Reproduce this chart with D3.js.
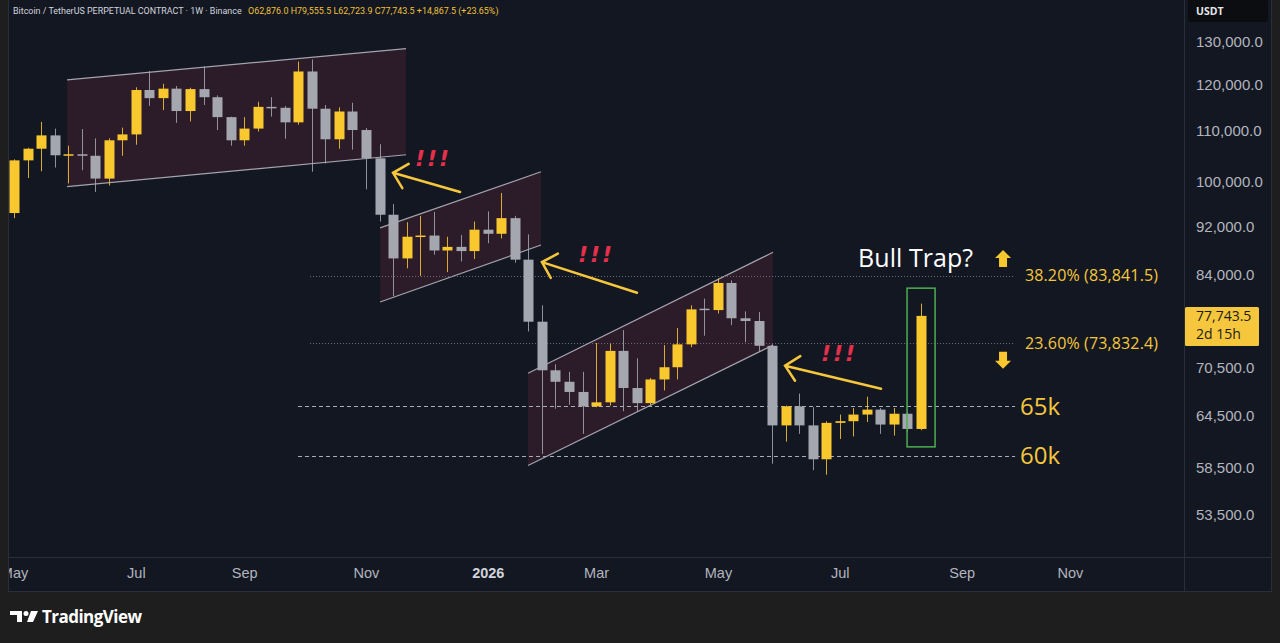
<!DOCTYPE html>
<html lang="en">

<head>
    <meta charset="UTF-8">
    <meta name="viewport" content="width=device-width, initial-scale=1.0">
    <title>BTCUSDT.P 1W</title>
    <style>
        html,
        body {
            margin: 0;
            padding: 0;
            background: #1e1e1e;
            overflow: hidden;
        }

        svg {
            display: block;
            font-family: "Open Sans", sans-serif;
        }

        .legend {
            font-family: Roboto, sans-serif;
        }

        .y-axis text {
            fill: #b2b5be;
            font-size: 15px;
        }

        .x-axis text {
            fill: #b2b5be;
            font-size: 14.5px;
        }

        .x-axis .year {
            fill: #d1d4dc;
            font-weight: bold;
        }

        .channel-fill {
            fill: rgba(120, 40, 60, 0.25);
        }

        .channel-line {
            stroke: #c5c7cf;
            stroke-width: 1.2px;
            stroke-opacity: 0.8;
        }

        .fib-line {
            stroke: #6a6d78;
            stroke-width: 1px;
            stroke-dasharray: 1, 2;
        }

        .level-line {
            stroke: #a9acb6;
            stroke-width: 1px;
            stroke-dasharray: 4, 3;
        }

        .label-yellow {
            fill: #f6c73c;
        }

        .arrow {
            fill: none;
            stroke: #f6c73c;
            stroke-width: 2.5px;
            stroke-linecap: round;
        }

        .bang {
            fill: #e5304b;
            font-family: "DejaVu Sans", sans-serif;
            font-weight: bold;
            font-style: oblique;
            font-size: 22px;
            letter-spacing: 2px;
            text-anchor: middle;
            dominant-baseline: middle;
        }

        .sep {
            stroke: #2a2e39;
            stroke-width: 1px;
        }
    </style>
</head>

<body>
    <script src="https://d3js.org/d3.v7.min.js"></script>
    <script>
        // weekly candles, Monday open dates
        const weeks = [
            '2025-05-05', '2025-05-12', '2025-05-19', '2025-05-26', '2025-06-02', '2025-06-09', '2025-06-16',
            '2025-06-23', '2025-06-30', '2025-07-07', '2025-07-14', '2025-07-21', '2025-07-28', '2025-08-04',
            '2025-08-11', '2025-08-18', '2025-08-25', '2025-09-01', '2025-09-08', '2025-09-15', '2025-09-22',
            '2025-09-29', '2025-10-06', '2025-10-13', '2025-10-20', '2025-10-27', '2025-11-03', '2025-11-10',
            '2025-11-17', '2025-11-24', '2025-12-01', '2025-12-08', '2025-12-15', '2025-12-22', '2025-12-29',
            '2026-01-05', '2026-01-12', '2026-01-19', '2026-01-26', '2026-02-02', '2026-02-09', '2026-02-16',
            '2026-02-23', '2026-03-02', '2026-03-09', '2026-03-16', '2026-03-23', '2026-03-30', '2026-04-06',
            '2026-04-13', '2026-04-20', '2026-04-27', '2026-05-04', '2026-05-11', '2026-05-18', '2026-05-25',
            '2026-06-01', '2026-06-08', '2026-06-15', '2026-06-22', '2026-06-29', '2026-07-06', '2026-07-13',
            '2026-07-20', '2026-07-27', '2026-08-03', '2026-08-10', '2026-08-17'
        ];
        const opens = [
            94300, 104100, 106400, 109100, 105100, 105300, 105000, 100600, 108100, 109300,
            118800, 117000, 119100, 114200, 119000, 117200, 112900, 108100, 110500, 115100,
            114900, 111800, 123000, 114700, 108300, 114100, 110200, 104500, 94000, 86600,
            90200, 90400, 87900, 88500, 87800, 91400, 90700, 93400, 86400, 76900,
            70200, 68700, 67400, 65600, 66100, 72800, 67900, 66000, 69000, 70600,
            73700, 78800, 78600, 82700, 77400, 77000, 73500, 63300, 65600, 63300,
            59400, 63600, 63800, 64600, 65200, 63400, 64700, 62876.0
        ];
        const highs = [
            104300, 106600, 111900, 110500, 107000, 110400, 108500, 108500, 110700, 119400,
            123100, 120200, 119700, 119300, 124200, 117600, 113000, 112900, 116200, 117200,
            115300, 125300, 125800, 115500, 115000, 116000, 110600, 107300, 95900, 92700,
            93800, 94500, 90200, 90500, 92800, 94600, 97900, 93800, 90600, 79300,
            71000, 70000, 70000, 73900, 73800, 75700, 71800, 69200, 73600, 76000,
            79300, 80300, 83400, 83100, 78400, 78300, 73700, 65700, 67200, 65500,
            63800, 64600, 65400, 66800, 65400, 65400, 64900, 79555.5
        ];
        const lows = [
            93400, 100700, 102000, 102700, 99700, 102200, 98100, 99300, 105000, 107200,
            115300, 114400, 111700, 112000, 115500, 110200, 107000, 107000, 109900, 113000,
            108400, 111300, 101900, 103500, 106400, 106200, 98600, 92800, 80700, 85000,
            83800, 87200, 84400, 86100, 86500, 89100, 89900, 85900, 75500, 60000,
            65300, 65800, 62300, 65500, 65700, 65000, 65000, 65800, 67600, 69000,
            73300, 74900, 78100, 76400, 74000, 72700, 58900, 61400, 62300, 58200,
            57700, 61700, 62000, 63700, 62300, 62100, 62500, 62723.9
        ];
        const closes = [
            104100, 106400, 109100, 105100, 105300, 105000, 100600, 108100, 109300, 118800,
            117000, 119100, 114200, 119000, 117200, 112900, 108100, 110500, 115100, 114900,
            111800, 123000, 114700, 108300, 114100, 110200, 104500, 94000, 86600, 90200,
            90400, 87900, 88500, 87800, 91400, 90700, 93400, 86400, 76900, 70200,
            68700, 67400, 65600, 66100, 72800, 67900, 66000, 69000, 70600, 73700,
            78700, 78600, 82700, 77400, 77000, 73500, 63300, 65600, 63300, 59400,
            63600, 63800, 64600, 65200, 63400, 64700, 62876.0, 77743.5
        ];

        const priceTicks = [130000, 120000, 110000, 100000, 92000, 84000, 70500, 64500, 58500, 53500];
        const dateTicks = ['2025-05-05', '2025-07-07', '2025-09-01', '2025-11-03', '2026-01-05',
            '2026-03-02', '2026-05-04', '2026-07-06', '2026-09-07', '2026-11-02'];
        const dateTickLabels = ['May', 'Jul', 'Sep', 'Nov', '2026', 'Mar', 'May', 'Jul', 'Sep', 'Nov'];

        // drawings, positions as [week index, price]
        const channelWeeks = [[3.92, 28.96], [27.04, 38.93], [37.97, 56.07]];
        const channelTop = [[121100, 128400], [91700, 101900], [69800, 87600]];
        const channelBottom = [[99100, 105200], [79800, 88800], [58700, 73600]];

        const fibPcts = ['38.20%', '23.60%'];
        const fibValues = [83841.5, 73832.4];
        const fibWeeks = [21.87, 73.95];

        const levelNames = ['65k', '60k'];
        const levelValues = [65600, 59800];
        const levelWeeks = [20.98, 73.95];

        const arrowTips = [[28.0, 101700], [39.0, 86000], [56.96, 70800]];
        const arrowTails = [[32.95, 98100], [46.02, 81200], [64.05, 67800]];
        const bangSpots = [[30.95, 104200], [42.99, 87000], [60.94, 72200]];

        const boxWeeks = [65.97, 68.04];
        const boxPrices = [60800, 81900];

        const width = 1280;
        const height = 643;
        const panel = { left: 8, right: 1272, bottom: 592 };
        const plotRight = 1184;
        const axisTop = 557;

        const parseDate = d3.utcParse('%Y-%m-%d');
        const weekStart = parseDate(weeks[0]);
        const atWeek = i => new Date(weekStart.getTime() + i * 7 * 864e5);

        const candles = weeks.map((w, i) => ({
            date: parseDate(w),
            open: opens[i],
            high: highs[i],
            low: lows[i],
            close: closes[i],
        }));

        const xScale = d3.scaleUtc()
            .domain([weekStart, parseDate(weeks[weeks.length - 1])])
            .range([14, 921]);
        const yScale = d3.scaleLog()
            .domain([53500, 130000])
            .range([515, 42]);

        const px = p => [xScale(atWeek(p[0])), yScale(p[1])];

        const svg = d3.select('body')
            .append('svg')
            .attr('width', width)
            .attr('height', height);

        svg.append('rect')
            .attr('width', width).attr('height', height)
            .attr('fill', '#1e1e1e');
        svg.append('rect')
            .attr('x', panel.left).attr('y', 0)
            .attr('width', panel.right - panel.left).attr('height', panel.bottom)
            .attr('fill', '#131722');

        svg.append('clipPath').attr('id', 'plot-clip')
            .append('rect')
            .attr('x', panel.left).attr('y', 0)
            .attr('width', plotRight - panel.left).attr('height', axisTop);

        const plot = svg.append('g').attr('clip-path', 'url(#plot-clip)');

        // channels
        channelWeeks.forEach((cw, k) => {
            const tl = px([cw[0], channelTop[k][0]]);
            const tr = px([cw[1], channelTop[k][1]]);
            const bl = px([cw[0], channelBottom[k][0]]);
            const br = px([cw[1], channelBottom[k][1]]);
            plot.append('path')
                .attr('class', 'channel-fill')
                .attr('d', `M${tl}L${tr}L${br}L${bl}Z`);
            plot.append('line').attr('class', 'channel-line')
                .attr('x1', tl[0]).attr('y1', tl[1]).attr('x2', tr[0]).attr('y2', tr[1]);
            plot.append('line').attr('class', 'channel-line')
                .attr('x1', bl[0]).attr('y1', bl[1]).attr('x2', br[0]).attr('y2', br[1]);
        });

        // fib + support levels
        plot.selectAll('.fib-line')
            .data(fibValues)
            .enter().append('line')
            .attr('class', 'fib-line')
            .attr('x1', xScale(atWeek(fibWeeks[0])))
            .attr('x2', xScale(atWeek(fibWeeks[1])))
            .attr('y1', d => Math.round(yScale(d)) + 0.5)
            .attr('y2', d => Math.round(yScale(d)) + 0.5);

        plot.selectAll('.level-line')
            .data(levelValues)
            .enter().append('line')
            .attr('class', 'level-line')
            .attr('x1', xScale(atWeek(levelWeeks[0])))
            .attr('x2', xScale(atWeek(levelWeeks[1])))
            .attr('y1', d => Math.round(yScale(d)) + 0.5)
            .attr('y2', d => Math.round(yScale(d)) + 0.5);

        // candles
        const yellow = '#f9c72e';
        const grey = '#a4a7b0';
        const color = d => d.close >= d.open ? yellow : grey;

        plot.selectAll('.wick')
            .data(candles)
            .enter().append('line')
            .attr('class', 'wick')
            .attr('x1', d => Math.round(xScale(d.date)) + 0.5)
            .attr('x2', d => Math.round(xScale(d.date)) + 0.5)
            .attr('y1', d => yScale(d.high))
            .attr('y2', d => yScale(d.low))
            .attr('stroke', color)
            .attr('stroke-opacity', 0.85)
            .attr('stroke-width', 1);

        plot.selectAll('.body')
            .data(candles)
            .enter().append('rect')
            .attr('class', 'body')
            .attr('x', d => Math.round(xScale(d.date)) - 4.5)
            .attr('width', 10)
            .attr('y', d => yScale(Math.max(d.open, d.close)))
            .attr('height', d => Math.max(1.5, Math.abs(yScale(d.open) - yScale(d.close))))
            .attr('fill', color);

        // highlight box around the last candle
        const b0 = px([boxWeeks[0], boxPrices[1]]);
        const b1 = px([boxWeeks[1], boxPrices[0]]);
        plot.append('rect')
            .attr('x', b0[0]).attr('y', b0[1])
            .attr('width', b1[0] - b0[0]).attr('height', b1[1] - b0[1])
            .attr('fill', 'none')
            .attr('stroke', '#4caf50')
            .attr('stroke-width', 1.5);

        // hand drawn arrows
        arrowTips.forEach((tip, k) => {
            const a = px(tip);
            const t = px(arrowTails[k]);
            const ang = Math.atan2(t[1] - a[1], t[0] - a[0]);
            const len = 18;
            const h1 = [a[0] + len * Math.cos(ang - 0.8), a[1] + len * Math.sin(ang - 0.8)];
            const h2 = [a[0] + len * Math.cos(ang + 0.75), a[1] + len * Math.sin(ang + 0.75)];
            plot.append('path')
                .attr('class', 'arrow')
                .attr('d', `M${t}L${a}M${h1}L${a}L${h2}`);
        });

        plot.selectAll('.bang')
            .data(bangSpots)
            .enter().append('text')
            .attr('class', 'bang')
            .attr('x', d => px(d)[0])
            .attr('y', d => px(d)[1])
            .text('!!!');

        const trap = px([62.35, 85200]);
        plot.append('text')
            .attr('x', trap[0]).attr('y', trap[1])
            .attr('fill', '#ffffff')
            .attr('font-size', 25)
            .attr('textLength', 115)
            .text('Bull Trap?');

        // block arrows up / down
        const up = px([73.06, 86500]);
        plot.append('path')
            .attr('fill', yellow)
            .attr('d', `M${up[0]},${up[1] - 9}L${up[0] + 8},${up[1] - 1}L${up[0] + 4},${up[1] - 1}L${up[0] + 4},${up[1] + 8}L${up[0] - 4},${up[1] + 8}L${up[0] - 4},${up[1] - 1}L${up[0] - 8},${up[1] - 1}Z`);
        const down = px([73.06, 71600]);
        plot.append('path')
            .attr('fill', yellow)
            .attr('d', `M${down[0]},${down[1] + 9}L${down[0] + 8},${down[1] + 1}L${down[0] + 4},${down[1] + 1}L${down[0] + 4},${down[1] - 8}L${down[0] - 4},${down[1] - 8}L${down[0] - 4},${down[1] + 1}L${down[0] - 8},${down[1] + 1}Z`);

        const fmt1 = d3.format(',.1f');
        plot.selectAll('.fib-label')
            .data(fibValues)
            .enter().append('text')
            .attr('class', 'fib-label label-yellow')
            .attr('x', xScale(atWeek(74.68)))
            .attr('y', d => yScale(d))
            .attr('dy', '0.35em')
            .attr('font-size', 16)
            .attr('textLength', 133)
            .text((d, i) => `${fibPcts[i]} (${fmt1(d)})`);

        plot.selectAll('.level-label')
            .data(levelValues)
            .enter().append('text')
            .attr('class', 'level-label label-yellow')
            .attr('x', xScale(atWeek(74.32)))
            .attr('y', d => yScale(d))
            .attr('dy', '0.36em')
            .attr('font-size', 24)
            .text((d, i) => levelNames[i]);

        // header legend: size it so both parts fit in ~488px
        const last = candles[candles.length - 1];
        const prevClose = closes[closes.length - 2];
        const chg = last.close - prevClose;
        const title = svg.append('text')
            .attr('class', 'legend')
            .attr('x', 13).attr('y', 14)
            .attr('fill', '#d1d4dc')
            .attr('font-size', 10)
            .text('Bitcoin / TetherUS PERPETUAL CONTRACT · 1W · Binance');
        const ohlc = svg.append('text')
            .attr('class', 'legend')
            .attr('y', 14)
            .attr('fill', '#f0c23a')
            .attr('font-size', 10)
            .text(`O${fmt1(last.open)} H${fmt1(last.high)} L${fmt1(last.low)} C${fmt1(last.close)} +${fmt1(chg)} (+${d3.format('.2f')(chg / prevClose * 100)}%)`);
        const w1 = title.node().getComputedTextLength();
        const w2 = ohlc.node().getComputedTextLength();
        const fs = 10 * 480 / (w1 + w2);
        title.attr('font-size', fs);
        ohlc.attr('font-size', fs)
            .attr('x', 13 + w1 * fs / 10 + 6);

        // axes
        const yAxis = d3.axisRight(yScale)
            .tickValues(priceTicks)
            .tickSize(0)
            .tickPadding(12)
            .tickFormat(fmt1);
        svg.append('g')
            .attr('class', 'y-axis')
            .attr('transform', `translate(${plotRight}, 0)`)
            .call(yAxis)
            .call(g => g.select('.domain').remove());

        const xAxis = d3.axisBottom(xScale)
            .tickValues(dateTicks.map(parseDate))
            .tickSize(0)
            .tickPadding(11)
            .tickFormat((d, i) => dateTickLabels[i]);
        svg.append('g')
            .attr('class', 'x-axis')
            .attr('clip-path', 'url(#axis-clip)')
            .attr('transform', `translate(0, ${axisTop})`)
            .call(xAxis)
            .call(g => g.select('.domain').remove())
            .selectAll('text')
            .classed('year', (d, i) => /^\d+$/.test(dateTickLabels[i]));
        svg.append('clipPath').attr('id', 'axis-clip')
            .append('rect')
            .attr('x', panel.left).attr('y', 0)
            .attr('width', plotRight - panel.left).attr('height', 40);

        // separators
        svg.append('line').attr('class', 'sep')
            .attr('x1', panel.left).attr('x2', panel.right)
            .attr('y1', axisTop + 0.5).attr('y2', axisTop + 0.5);
        svg.append('line').attr('class', 'sep')
            .attr('x1', plotRight + 0.5).attr('x2', plotRight + 0.5)
            .attr('y1', 0).attr('y2', panel.bottom);
        svg.append('rect')
            .attr('x', panel.left + 0.5).attr('y', -1)
            .attr('width', panel.right - panel.left - 1).attr('height', panel.bottom + 0.5)
            .attr('fill', 'none')
            .attr('stroke', '#2a2e39');

        // currency tag
        svg.append('rect')
            .attr('x', 1188).attr('y', 0).attr('width', 80).attr('height', 22)
            .attr('rx', 2)
            .attr('fill', '#0c0d10');
        svg.append('text')
            .attr('x', 1196).attr('y', 15)
            .attr('fill', '#e6e7eb')
            .attr('font-size', 10.5)
            .attr('font-weight', 'bold')
            .text('USDT');

        // last price tag
        const lastY = yScale(last.close);
        svg.append('rect')
            .attr('x', plotRight + 1).attr('y', lastY - 9)
            .attr('width', 74).attr('height', 39)
            .attr('rx', 1.5)
            .attr('fill', '#f6c73c');
        svg.append('text')
            .attr('x', 1196).attr('y', lastY + 5)
            .attr('fill', '#1b1b1b')
            .attr('font-size', 14)
            .text(fmt1(last.close));
        svg.append('text')
            .attr('x', 1196).attr('y', lastY + 23)
            .attr('fill', '#1b1b1b')
            .attr('font-size', 14)
            .text('2d 15h');

        // footer logo
        const logo = svg.append('g').attr('fill', '#ffffff');
        logo.append('path').attr('d', 'M10,611H22V622H17V615H10Z');
        logo.append('circle').attr('cx', 26).attr('cy', 613.5).attr('r', 2.5);
        logo.append('path').attr('d', 'M31,611H38L33,622H27Z');
        logo.append('text')
            .attr('x', 42).attr('y', 623)
            .attr('font-size', 17)
            .attr('font-weight', 'bold')
            .attr('textLength', 100)
            .text('TradingView');
    </script>
</body>

</html>
